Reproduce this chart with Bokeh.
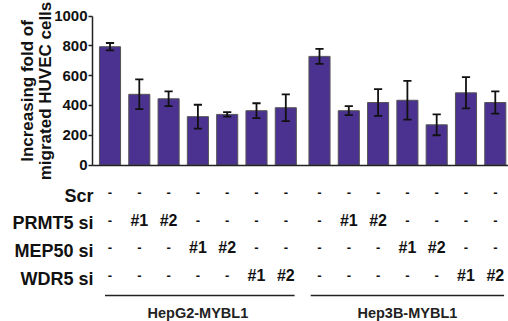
from bokeh.plotting import figure
from bokeh.models import Range1d, ColumnDataSource, FixedTicker, LinearAxis
from bokeh.core.properties import value
from bokeh.embed import file_html
from bokeh.resources import INLINE

# ---------------- data ----------------
groups = ["HepG2-MYBL1", "Hep3B-MYBL1"]
bar_values = [795, 475, 445, 325, 340, 365, 385,
              730, 365, 420, 435, 270, 485, 420]
bar_errors = [25, 100, 50, 80, 15, 50, 90,
              50, 30, 90, 130, 70, 105, 75]
row_labels = ["Scr", "PRMT5 si", "MEP50 si", "WDR5 si"]
scr_marks = ["-", "-", "-", "-", "-", "-", "-",
             "-", "-", "-", "-", "-", "-", "-"]
prmt5_marks = ["-", "#1", "#2", "-", "-", "-", "-",
               "-", "#1", "#2", "-", "-", "-", "-"]
mep50_marks = ["-", "-", "-", "#1", "#2", "-", "-",
               "-", "-", "-", "#1", "#2", "-", "-"]
wdr5_marks = ["-", "-", "-", "-", "-", "#1", "#2",
              "-", "-", "-", "-", "-", "#1", "#2"]
y_ticks = [0, 200, 400, 600, 800, 1000]

# ---------------- layout (pixel based) ----------------
W, H = 508, 321
n_per_group = 7
group_gap = 0.15
xs = [i + group_gap * (i // n_per_group) for i in range(len(bar_values))]
ppu = 29.3                  # px per bar slot
first_bar_px = 109.5        # from figure left
axis_px = 92
xr_start = -first_bar_px / ppu
xr_end = (W - first_bar_px) / ppu
axis_x = -(first_bar_px - axis_px) / ppu

ppv = 148.8 / 1000          # px per value unit
zero_px = 164.5             # from figure top
yr_end = zero_px / ppv
yr_start = -(H - zero_px) / ppv


def ypx(px_from_top):
    return (zero_px - px_from_top) / ppv


FONT = value("Liberation Sans")
FILL = "#4B3290"
DARK = "#111111"

p = figure(width=W, height=H, output_backend="svg", toolbar_location=None,
           x_range=Range1d(xr_start, xr_end), y_range=Range1d(yr_start, yr_end),
           x_axis_location=None, y_axis_location=None, min_border=0)
p.outline_line_color = None
p.grid.grid_line_color = None

# ---------------- bars ----------------
cap = 0.14
src = ColumnDataSource(dict(
    x=xs, top=bar_values,
    lo=[v - e for v, e in zip(bar_values, bar_errors)],
    hi=[v + e for v, e in zip(bar_values, bar_errors)],
    x0=[x - cap for x in xs], x1=[x + cap for x in xs],
))
p.vbar(x="x", top="top", width=0.72, bottom=0, source=src,
       fill_color=FILL, line_color="#555555", line_width=1)
for y0, y1, a, b in (("lo", "hi", "x", "x"), ("hi", "hi", "x0", "x1"), ("lo", "lo", "x0", "x1")):
    p.segment(x0=a, y0=y0, x1=b, y1=y1, source=src,
              line_color=DARK, line_width=1.8)

# ---------------- axes ----------------
ya = LinearAxis(fixed_location=axis_x, bounds=(0, 1000))
ya.ticker = FixedTicker(ticks=y_ticks)
ya.minor_tick_line_color = None
ya.major_tick_in = 0
ya.major_tick_out = 4
ya.major_tick_line_width = 1.5
ya.major_tick_line_color = "#222222"
ya.axis_line_width = 1.5
ya.axis_line_color = "#222222"
ya.major_label_text_font = "Liberation Sans"
ya.major_label_text_font_style = "bold"
ya.major_label_text_font_size = "15px"
ya.major_label_text_color = DARK
ya.major_label_standoff = 1
ya.axis_label = "Increasing fold of\nmigrated HUVEC cells"
ya.axis_label_text_font = "Liberation Sans"
ya.axis_label_text_font_style = "bold"
ya.axis_label_text_font_size = "17px"
ya.axis_label_text_color = DARK
ya.axis_label_text_line_height = 0.95
ya.axis_label_standoff = -4
p.add_layout(ya, "left")

xa = LinearAxis(fixed_location=0, bounds=(axis_x, xr_end))
xa.ticker = FixedTicker(ticks=[])
xa.major_tick_line_color = None
xa.minor_tick_line_color = None
xa.major_label_text_font_size = "0px"
xa.axis_line_width = 1.5
xa.axis_line_color = "#222222"
p.add_layout(xa, "below")

# ---------------- table ----------------
row_top_px = 195          # first row centre, from figure top
row_step_px = 27.7
mark_shift_px = 3
row_y = [ypx(row_top_px + r * row_step_px) for r in range(len(row_labels))]
mark_y = [ypx(row_top_px + r * row_step_px - mark_shift_px) for r in range(len(row_labels))]

all_marks = [scr_marks, prmt5_marks, mep50_marks, wdr5_marks]
dash_x, dash_y, dash_t, num_x, num_y, num_t = [], [], [], [], [], []
for r, marks in enumerate(all_marks):
    for x, m in zip(xs, marks):
        if m == "-":
            dash_x.append(x); dash_y.append(mark_y[r]); dash_t.append(m)
        else:
            num_x.append(x); num_y.append(mark_y[r]); num_t.append(m)
p.text(x=dash_x, y=dash_y, text=dash_t, text_font=FONT, text_font_style="bold",
       text_font_size="13px", text_align="center", text_baseline="middle",
       text_color=DARK)
p.text(x=num_x, y=num_y, text=num_t, text_font=FONT, text_font_style="bold",
       text_font_size="16px", text_align="center", text_baseline="middle",
       text_color=DARK)

label_x = axis_x + 1 / ppu
p.text(x=[label_x] * len(row_labels), y=row_y,
       text=row_labels, text_font=FONT, text_font_style="bold",
       text_font_size="18px", text_align="right", text_baseline="middle",
       text_color=DARK)

line_y = ypx(295)
glabel_y = ypx(312)
ext_left = 0.17
ext_right = 0.3
gx0, gx1, gxc = [], [], []
for g in range(len(groups)):
    first = xs[g * n_per_group]
    last = xs[(g + 1) * n_per_group - 1]
    gx0.append(first - (ext_left if g == 0 else ext_right))
    gx1.append(last + ext_right)
    gxc.append((first + last) / 2)
p.segment(x0=gx0, y0=[line_y] * 2, x1=gx1, y1=[line_y] * 2,
          line_color="#222222", line_width=1.6)
p.text(x=gxc, y=[glabel_y] * 2, text=groups, text_font=FONT,
       text_font_style="bold", text_font_size="14.5px", text_align="center",
       text_baseline="middle", text_color="#222222")

open("out.html", "w").write(file_html(p, INLINE))
